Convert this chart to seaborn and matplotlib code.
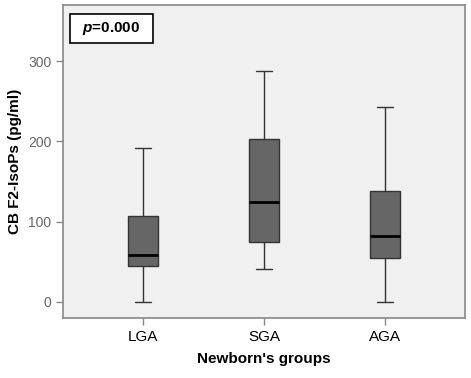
import matplotlib
matplotlib.use('Agg')
import matplotlib.pyplot as plt
import seaborn as sns
import pandas as pd
from matplotlib.patches import Rectangle

## 그룹별 5수 요약 (최소, Q1, 중앙값, Q3, 최대) - 그림에서 읽은 값
groups = ['LGA', 'SGA', 'AGA']
lga = [0, 45, 58, 107, 192]
sga = [41, 74, 125, 203, 288]
aga = [0, 55, 82, 138, 243]

df = pd.DataFrame({
    'group': [g for g, v in zip(groups, [lga, sga, aga]) for _ in v],
    'value': lga + sga + aga,
})

sns.set_style('white')
plt.rcParams['font.family'] = ['Liberation Sans', 'DejaVu Sans']
plt.rcParams['mathtext.fontset'] = 'custom'
plt.rcParams['mathtext.it'] = 'Liberation Sans:italic:bold'
plt.rcParams['text.color'] = 'black'
plt.rcParams['axes.labelcolor'] = 'black'

fig = plt.figure(figsize=(4.71, 3.78), dpi=100)
ax = fig.add_axes([0.134, 0.159, 0.853, 0.828])
ax.set_facecolor('#f0f0f0')

sns.boxplot(data=df, x='group', y='value', order=groups, whis=(0, 100),
            width=0.25, color='#666666', saturation=1, ax=ax,
            boxprops=dict(edgecolor='#333333', linewidth=1),
            whiskerprops=dict(color='#333333', linewidth=1),
            capprops=dict(color='#333333', linewidth=1),
            medianprops=dict(color='black', linewidth=2),
            showfliers=False)

ax.set_xlim(-0.66, 2.66)
ax.set_ylim(-20, 370)
ax.set_yticks([0, 100, 200, 300])

for s in ax.spines.values():
    s.set_color('#888888')
    s.set_linewidth(1.2)

ax.tick_params(axis='both', direction='out', length=5, width=1, color='#888888',
               bottom=True, left=True)
ax.tick_params(axis='y', labelsize=10, labelcolor='#666666')
ax.tick_params(axis='x', labelsize=11, labelcolor='black')

ax.set_xlabel("Newborn's groups", fontsize=11, fontweight='bold', labelpad=6)
ax.set_ylabel('CB F2-IsoPs (pg/ml)', fontsize=11, fontweight='bold', labelpad=4)

## p값 표시 상자
ax.add_patch(Rectangle((0.0174, 0.879), 0.2065, 0.0927, transform=ax.transAxes,
                       facecolor='white', edgecolor='black', linewidth=1.2, zorder=5))
ax.text(0.12, 0.926, r'$p$=0.000', transform=ax.transAxes,
        fontsize=11, fontweight='bold', ha='center', va='center', zorder=6)

fig.savefig('out.png', dpi=100)
